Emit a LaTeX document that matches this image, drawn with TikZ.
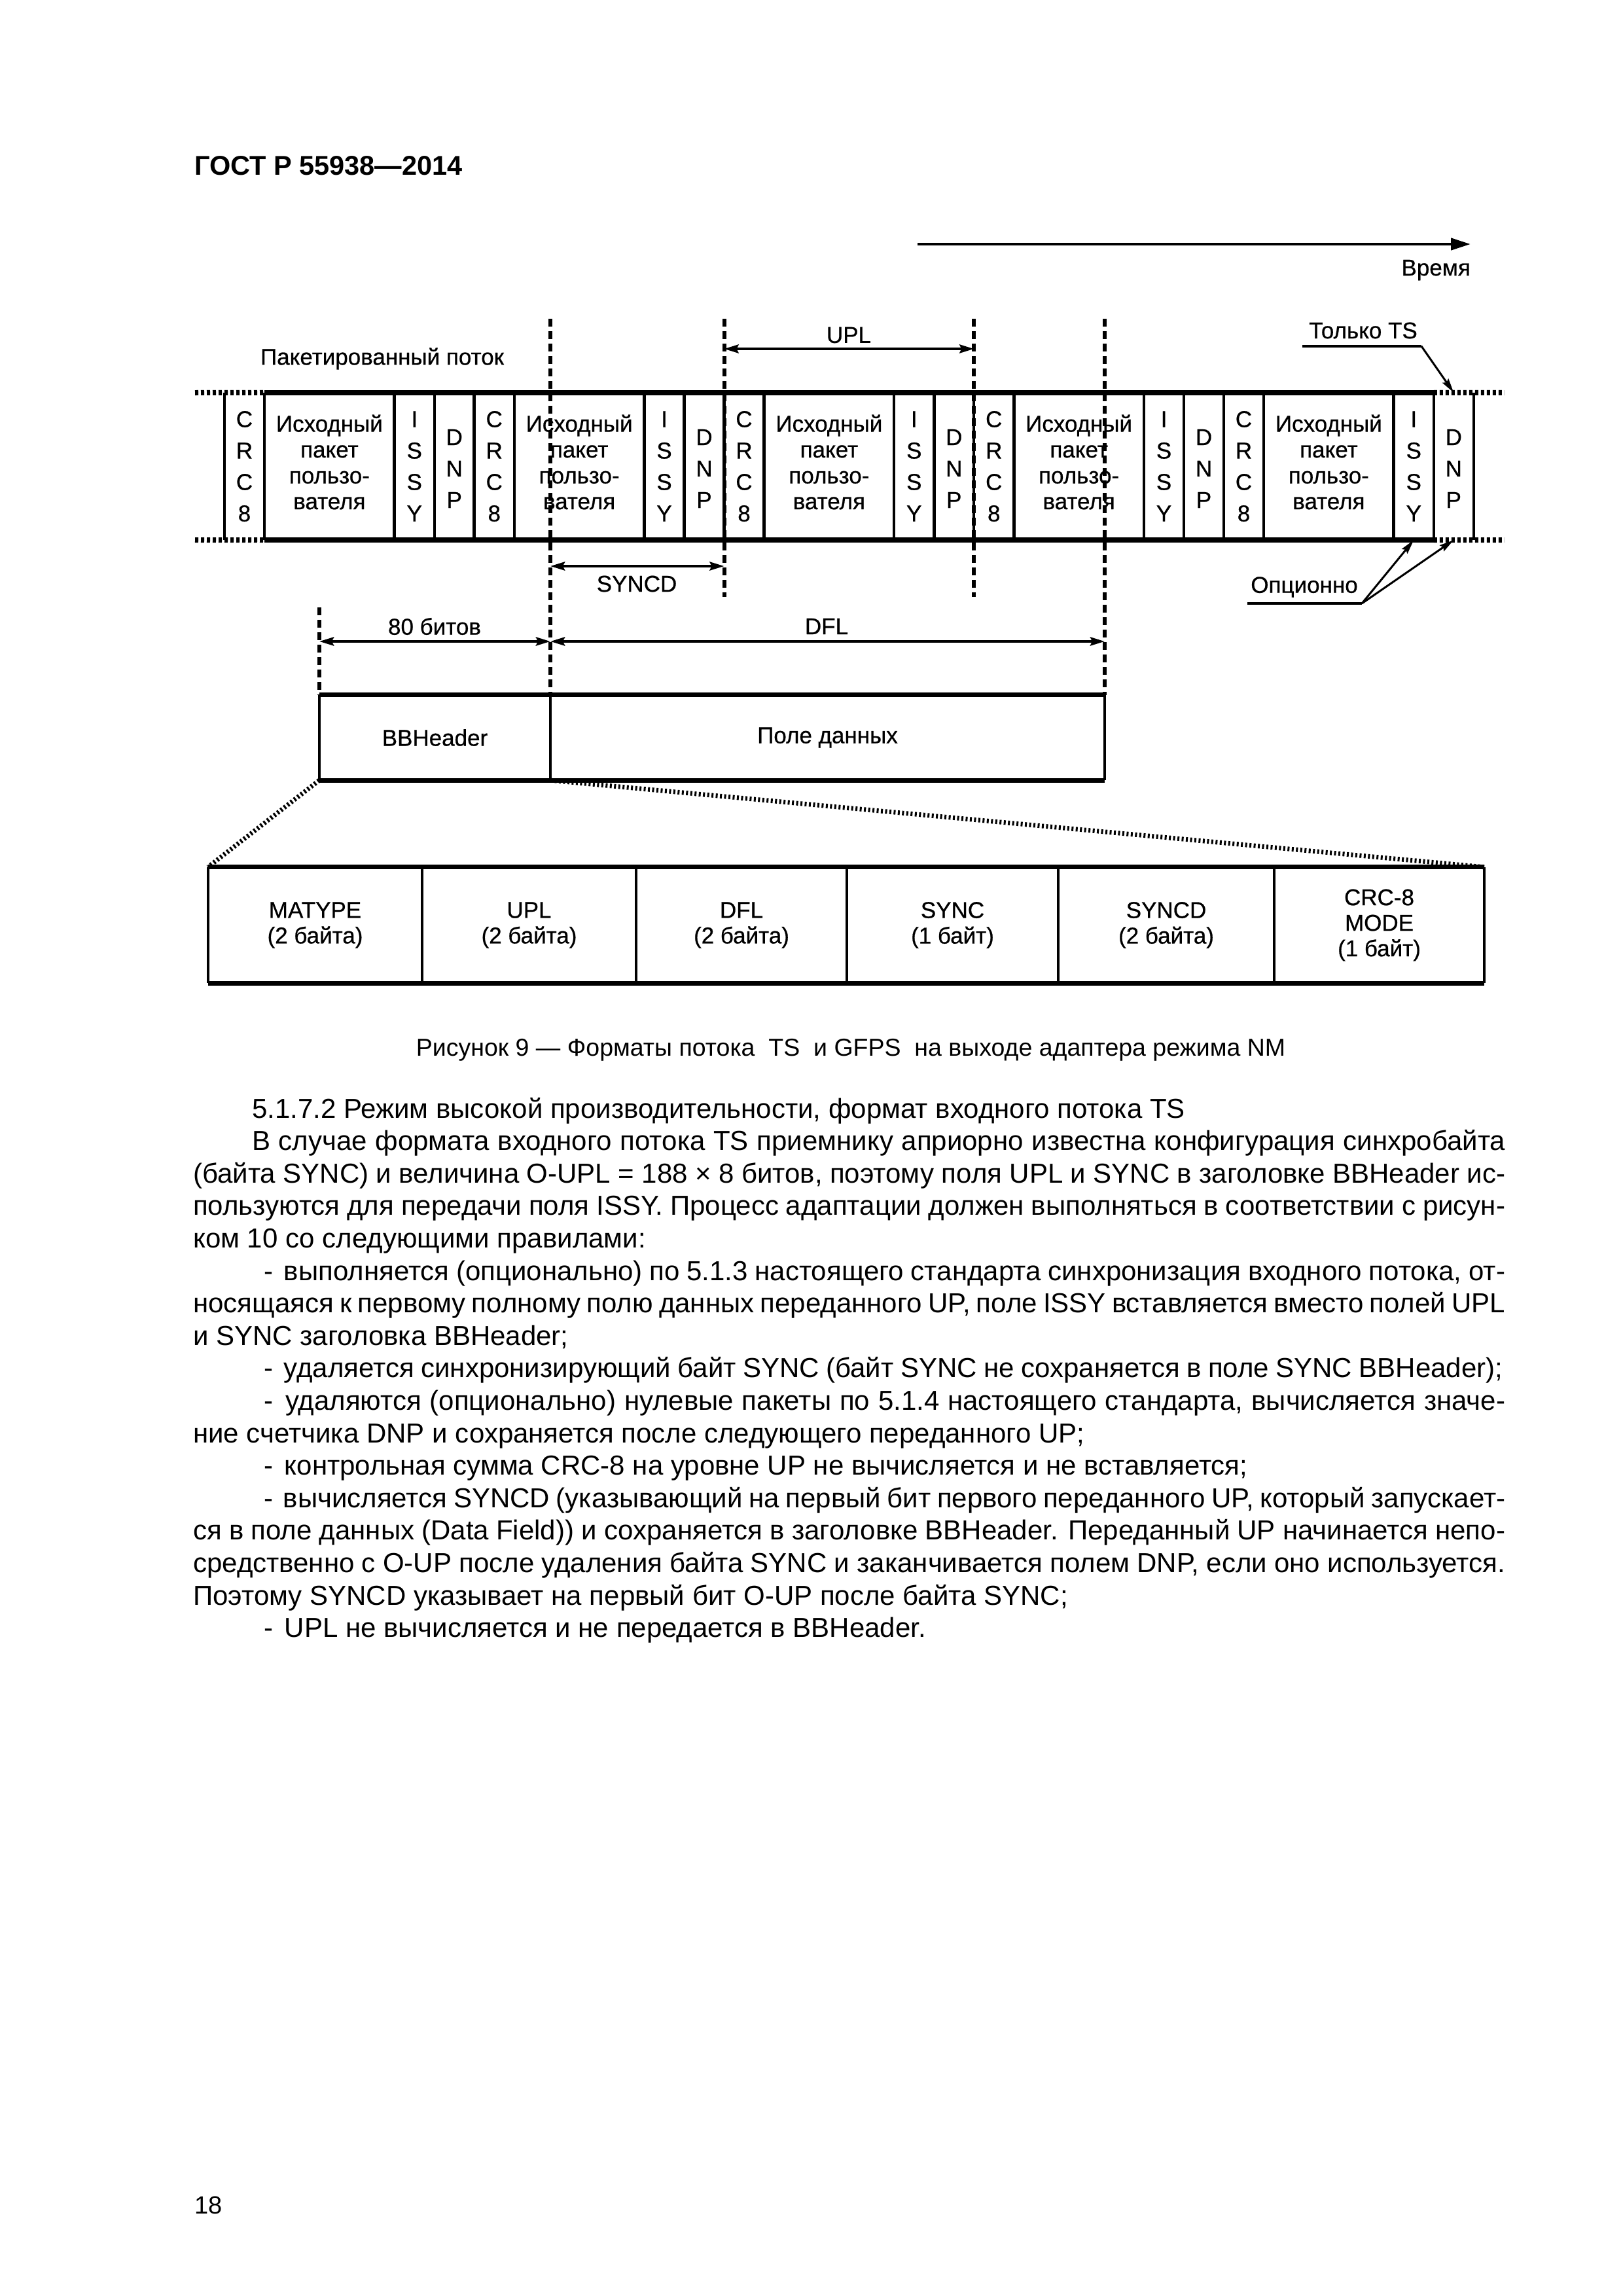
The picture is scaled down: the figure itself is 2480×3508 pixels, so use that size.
\documentclass[tikz,border=0pt]{standalone}
\usepackage{fontspec}
\setmainfont{Liberation Sans}
\newfontfamily\diagfont{Liberation Sans}[FakeBold=0.6]
\usetikzlibrary{arrows.meta}
\begin{document}
\begin{tikzpicture}[x=1pt,y=-1pt,
  lbl/.style={font=\diagfont\fontsize{35}{41}\selectfont, inner sep=0pt, align=center},
  stk/.style={font=\diagfont\fontsize{35}{48}\selectfont, inner sep=0pt, align=center},
  upk/.style={font=\diagfont\fontsize{35}{39.5}\selectfont, inner sep=0pt, align=center},
  cell/.style={inner sep=0pt, minimum height=225pt},
  tcell/.style={inner sep=0pt, minimum height=177pt, font=\diagfont\fontsize{35}{39}\selectfont, align=center},
  hline/.style={line width=8pt},
  vline/.style={line width=4.5pt},
  dashv/.style={line width=6pt, dash pattern=on 12pt off 7pt},
  dotl/.style={line width=8pt, dash pattern=on 5pt off 4pt},
  diag/.style={line width=7pt, dash pattern=on 3pt off 3.5pt},
  darr/.style={line width=4pt, {Stealth[length=22pt,width=13pt,inset=3pt]}-{Stealth[length=22pt,width=13pt,inset=3pt]}},
  ann/.style={line width=3pt, -{Stealth[length=22pt,width=11pt,inset=3pt]}},
  uline/.style={line width=4pt},
  body/.style={font=\fontsize{42}{49.6}\selectfont, inner sep=0pt, anchor=base west},
]
\useasboundingbox[fill=white] (0,0) rectangle (2480,3508);

% header
\node[font=\fontsize{41.5}{48}\selectfont\bfseries, inner sep=0pt, anchor=base west] (hdr) at (297,268) {ГОСТ Р 55938—2014};

% time arrow
\coordinate (t0) at (1402,373);
\coordinate (t1) at (2247,373);
\draw[line width=4.5pt, -{Triangle[length=30pt,width=18pt]}] (t0) -- (t1);
\node[lbl, anchor=base east] (vremya) at (2247,421) {Время};

% stream cells
\foreach \i in {1,...,5}{
  \pgfmathsetmacro{\xs}{343+(\i-1)*381.75}
  \node[cell, minimum width=61pt, stk] (crc\i) at (\xs+30.5,712.5) {C\\R\\C\\8};
  \node[cell, minimum width=198.75pt, upk] (up\i) at (\xs+160.375,706) {Исходный\\пакет\\пользо-\\вателя};
  \node[cell, minimum width=61pt, stk] (issy\i) at (\xs+290.25,712.5) {I\\S\\S\\Y};
  \node[cell, minimum width=61pt, stk] (dnp\i) at (\xs+351.25,716) {D\\N\\P};
}
\foreach \i in {1,...,5}{
  \draw[vline] (crc\i.north west) -- (crc\i.south west);
  \draw[vline] (crc\i.north east) -- (crc\i.south east);
  \draw[vline] (issy\i.north west) -- (issy\i.south west);
  \draw[vline] (issy\i.north east) -- (issy\i.south east);
}
\draw[vline] (dnp5.north east |- crc5.north) -- (dnp5.south east |- crc5.south);
\coordinate (lt) at (298,600);
\coordinate (lb) at (298,825);
\coordinate (rt) at (2299,600);
\coordinate (rb) at (2299,825);
\draw[hline] (crc1.north east) -- (issy5.north east);
\draw[hline] (crc1.south east) -- (issy5.south east);
\draw[dotl] (lt) -- (crc1.north east);
\draw[dotl] (lb) -- (crc1.south east);
\draw[dotl] (issy5.north east) -- (rt);
\draw[dotl] (issy5.south east) -- (rb);

\node[lbl] (pp) at (584,548) {Пакетированный поток};

% dashed verticals
\coordinate (d0t) at (488,928);   \coordinate (d0b) at (488,1062);
\coordinate (d1t) at (841,487);   \coordinate (d1b) at (841,1062);
\coordinate (d2t) at (1106.5,487); \coordinate (d2b) at (1106.5,912);
\coordinate (d3t) at (1488.25,487); \coordinate (d3b) at (1488.25,912);
\coordinate (d4t) at (1688,487);  \coordinate (d4b) at (1688,1062);
\foreach \k in {0,...,4}{ \draw[dashv] (d\k t) -- (d\k b); }

% dimension arrows
\coordinate (upla) at (1106.5,533); \coordinate (uplb) at (1488.25,533);
\draw[darr] (upla) -- (uplb);
\node[lbl] (upl) at (1297,512) {UPL};
\coordinate (sya) at (841,865); \coordinate (syb) at (1106.5,865);
\draw[darr] (sya) -- (syb);
\node[lbl] (syncd) at (973,892) {SYNCD};
\coordinate (ba) at (488,980); \coordinate (bb) at (841,980); \coordinate (bc) at (1688,980);
\draw[darr] (ba) -- (bb);
\draw[darr] (bb) -- (bc);
\node[lbl] (b80) at (664,957) {80 битов};
\node[lbl] (dfl) at (1263,957) {DFL};

% annotations
\node[lbl] (ts) at (2083,505) {Только TS};
\coordinate (tsa) at (1990,529); \coordinate (tsb) at (2172,529);
\draw[uline] (tsa) -- (tsb);
\draw[ann] (tsb) -- (dnp5.north |- crc5.north);
\node[lbl] (opt) at (1993,897) {Опционно};
\coordinate (opa) at (1906,922); \coordinate (opb) at (2081,922);
\draw[uline] (opa) -- (opb);
\draw[ann] (opb) -- (issy5.south);
\draw[ann] (opb) -- (dnp5.south |- crc5.south);

% BBHeader frame
\node[inner sep=0pt, minimum width=353pt, minimum height=130pt, lbl] (bbh) at (664.5,1127) {BBHeader};
\node[inner sep=0pt, minimum width=847pt, minimum height=130pt, lbl] (pd) at (1264.5,1127) {Поле данных};
\draw[line width=7pt] (bbh.north west) -- (pd.north east);
\draw[line width=7pt] (bbh.south west) -- (pd.south east);
\draw[vline] (bbh.north west) -- (bbh.south west);
\draw[vline] (bbh.north east) -- (bbh.south east);
\draw[vline] (pd.north east) -- (pd.south east);

% table
\node[tcell, minimum width=327pt] (tb1) at (481.5,1413.5) {MATYPE\\(2 байта)};
\node[tcell, minimum width=327pt] (tb2) at (808.5,1413.5) {UPL\\(2 байта)};
\node[tcell, minimum width=322pt] (tb3) at (1133,1413.5) {DFL\\(2 байта)};
\node[tcell, minimum width=323pt] (tb4) at (1455.5,1413.5) {SYNC\\(1 байт)};
\node[tcell, minimum width=330pt] (tb5) at (1782,1413.5) {SYNCD\\(2 байта)};
\node[tcell, minimum width=321pt] (tb6) at (2107.5,1413.5) {CRC-8\\MODE\\(1 байт)};
\draw[line width=7pt] (tb1.north west) -- (tb6.north east);
\draw[line width=7pt] (tb1.south west) -- (tb6.south east);
\foreach \i in {1,...,6}{ \draw[vline] (tb\i.north west) -- (tb\i.south west); }
\draw[vline] (tb6.north east) -- (tb6.south east);

% zoom-in dotted lines
\draw[diag] (bbh.south west) -- (tb1.north west);
\draw[diag] (bbh.south east) -- (tb6.north east);

% caption
\node[font=\fontsize{37.5}{44}\selectfont, inner sep=0pt, anchor=base] (cap) at (1300,1613) {Рисунок 9 — Форматы потока\ \ TS\ \ и GFPS\ \ на выходе адаптера режима NM};

% body text
\node[body] (l1) at (385,1708) {5.1.7.2 Режим высокой производительности, формат входного потока TS};
\node[body] (l2) at (385,1757.6) {\makebox[1915pt][s]{В случае формата входного потока TS приемнику априорно известна конфигурация синхробайта}};
\node[body] (l3) at (295,1807.2) {\makebox[2005pt][s]{(байта SYNC) и величина O-UPL = 188 × 8 битов, поэтому поля UPL и SYNC в заголовке BBHeader ис-}};
\node[body] (l4) at (295,1856.8) {\makebox[2005pt][s]{пользуются для передачи поля ISSY. Процесс адаптации должен выполняться в соответствии с рисун-}};
\node[body] (l5) at (295,1906.4) {ком 10 со следующими правилами:};
\node[body] (l6) at (403,1956) {\makebox[1897pt][s]{-\hspace{6pt} выполняется (опционально) по 5.1.3 настоящего стандарта синхронизация входного потока, от-}};
\node[body] (l7) at (295,2005.6) {\makebox[2005pt][s]{носящаяся к первому полному полю данных переданного UP, поле ISSY вставляется вместо полей UPL}};
\node[body] (l8) at (295,2055.2) {и SYNC заголовка BBHeader;};
\node[body] (l9) at (403,2104.8) {\makebox[1893pt][s]{-\hspace{6pt} удаляется синхронизирующий байт SYNC (байт SYNC не сохраняется в поле SYNC BBHeader);}};
\node[body] (l10) at (403,2154.4) {\makebox[1897pt][s]{-\hspace{6pt} удаляются (опционально) нулевые пакеты по 5.1.4 настоящего стандарта, вычисляется значе-}};
\node[body] (l11) at (295,2204) {ние счетчика DNP и сохраняется после следующего переданного UP;};
\node[body] (l12) at (403,2253.6) {-\hspace{6pt} контрольная сумма CRC-8 на уровне UP не вычисляется и не вставляется;};
\node[body] (l13) at (403,2303.2) {\makebox[1897pt][s]{-\hspace{6pt} вычисляется SYNCD (указывающий на первый бит первого переданного UP, который запускает-}};
\node[body] (l14) at (295,2352.8) {\makebox[2005pt][s]{ся в поле данных (Data Field)) и сохраняется в заголовке BBHeader. Переданный UP начинается непо-}};
\node[body] (l15) at (295,2402.4) {\makebox[2005pt][s]{средственно с O-UP после удаления байта SYNC и заканчивается полем DNP, если оно используется.}};
\node[body] (l16) at (295,2452) {Поэтому SYNCD указывает на первый бит O-UP после байта SYNC;};
\node[body] (l17) at (403,2501.6) {-\hspace{6pt} UPL не вычисляется и не передается в BBHeader.};

% page number
\node[font=\fontsize{38}{44}\selectfont, inner sep=0pt, anchor=base west] (pg) at (297,3382) {18};
\end{tikzpicture}
\end{document}
